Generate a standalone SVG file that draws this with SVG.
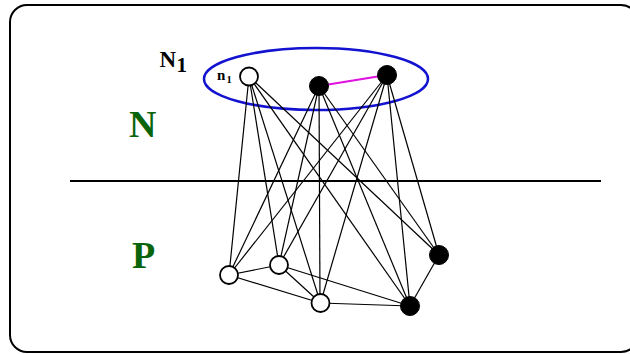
<svg xmlns="http://www.w3.org/2000/svg" width="630" height="354" viewBox="0 0 630 354">
<style>
.e{stroke:#000;stroke-width:1.2;fill:none}
.w{fill:#fff;stroke:#000;stroke-width:1.8}
.b{fill:#000;stroke:#000;stroke-width:1}
.t{font-family:"Liberation Serif","Times New Roman",serif;font-weight:bold}
.g{fill:#0a640a;font-size:38px}
</style>
<rect x="10" y="5" width="628" height="347" rx="17" fill="#fff" stroke="#000" stroke-width="2"/>
<line x1="70" y1="181" x2="601" y2="181" stroke="#000" stroke-width="2.2"/>
<text class="t g" x="129" y="137">N</text>
<text class="t g" x="132" y="268">P</text>
<g id="label-N1"><text class="t" x="159.5" y="66.8" font-size="23">N</text><text class="t" x="176.5" y="71.8" font-size="21">1</text></g>
<ellipse id="N1" cx="316" cy="79" rx="112" ry="31" fill="none" stroke="#1212d0" stroke-width="2.5"/>
<g id="connectors">
<line class="e" x1="249" y1="76.5" x2="229" y2="275"/>
<line class="e" x1="249" y1="76.5" x2="279" y2="265"/>
<line class="e" x1="249" y1="76.5" x2="320.5" y2="303"/>
<line class="e" x1="249" y1="76.5" x2="410" y2="306"/>
<line class="e" x1="249" y1="76.5" x2="439" y2="255"/>
<line class="e" x1="319" y1="86" x2="229" y2="275"/>
<line class="e" x1="319" y1="86" x2="279" y2="265"/>
<line class="e" x1="319" y1="86" x2="320" y2="303"/>
<line class="e" x1="319" y1="86" x2="410" y2="306"/>
<line class="e" x1="319" y1="86" x2="439" y2="255"/>
<line class="e" x1="387" y1="75" x2="229" y2="275"/>
<line class="e" x1="387" y1="75" x2="279" y2="265"/>
<line class="e" x1="387" y1="75" x2="320.5" y2="303"/>
<line class="e" x1="387" y1="75" x2="410" y2="306"/>
<line class="e" x1="387" y1="75" x2="439" y2="255"/>
<line class="e" x1="229" y1="275" x2="279" y2="265"/>
<line class="e" x1="229" y1="275" x2="320.5" y2="303"/>
<line class="e" x1="279" y1="265" x2="320.5" y2="303"/>
<line class="e" x1="279" y1="265" x2="410" y2="306"/>
<line class="e" x1="320.5" y1="303" x2="410" y2="306"/>
<line class="e" x1="439" y1="255" x2="410" y2="306"/>
<line x1="319" y1="86" x2="387" y2="75" stroke="#e010e0" stroke-width="2.2"/>
</g>
<g id="n1"><circle class="w" cx="249" cy="76.5" r="9"/><text class="t" x="217" y="79.5" font-size="15">n</text><text class="t" x="226.5" y="82.5" font-size="10.5">1</text></g>
<g id="nA"><circle class="b" cx="319" cy="86" r="9.5"/></g>
<g id="nB"><circle class="b" cx="387" cy="75" r="9.5"/></g>
<g id="p1"><circle class="w" cx="229" cy="275" r="9"/></g>
<g id="p2"><circle class="w" cx="279" cy="265" r="9"/></g>
<g id="p3"><circle class="w" cx="320.5" cy="303" r="9"/></g>
<g id="p4"><circle class="b" cx="439" cy="255" r="9.5"/></g>
<g id="p5"><circle class="b" cx="410" cy="306" r="9.5"/></g>
</svg>
